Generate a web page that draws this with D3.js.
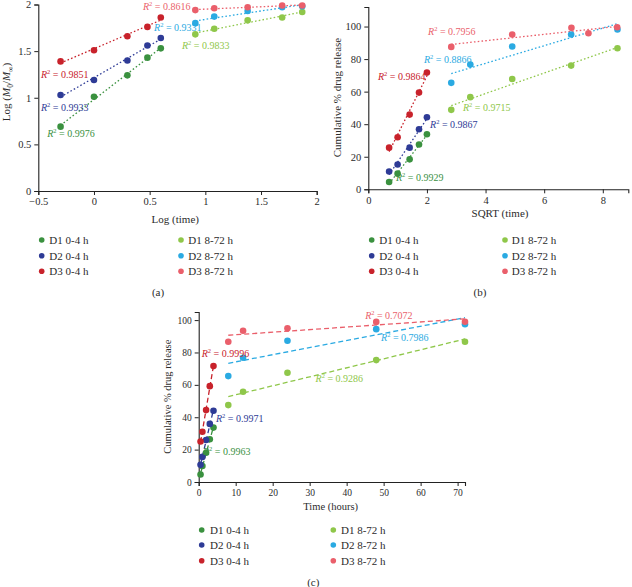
<!DOCTYPE html>
<html><head><meta charset="utf-8">
<script src="https://cdn.jsdelivr.net/npm/d3@7"></script>
<style>
html,body{margin:0;padding:0;background:#fff;}
svg{display:block;font-family:"Liberation Serif","Times New Roman",serif;}
</style></head>
<body>
<svg id="chart" width="632" height="587"></svg>
<script>
// ---------- DATA ----------
const seriesNames = ["D1 0-4 h","D2 0-4 h","D3 0-4 h","D1 8-72 h","D2 8-72 h","D3 8-72 h"];
const seriesColors = ["#3a913f","#2e3b96","#c8222b","#8fc74a","#2aaae2","#ea5f6b"];

// Panel (a): log(time) vs log(Mt/M∞)
const aXTicks = [-0.5,0,0.5,1,1.5,2];
const aYTicks = [0,0.5,1,1.5,2];
const aLogTimeEarly = [-0.30,0.00,0.30,0.48,0.60];
const aLogTimeLate  = [0.91,1.08,1.38,1.69,1.87];
const aD1Early = [0.69,1.01,1.24,1.43,1.53];
const aD2Early = [1.03,1.19,1.40,1.56,1.64];
const aD3Early = [1.39,1.51,1.66,1.76,1.86];
const aD1Late  = [1.68,1.74,1.83,1.86,1.92];
const aD2Late  = [1.80,1.87,1.93,1.97,1.98];
const aD3Late  = [1.94,1.96,1.97,1.99,1.99];
const aR2 = ["0.9976","0.9933","0.9851","0.9833","0.9331","0.8616"];
const aR2X = [-0.42,-0.476,-0.476,0.79,0.54,0.44];
const aR2Y = [0.584,0.863,1.217,1.528,1.721,1.946];

// Panel (b): SQRT(time) vs cumulative % release
const bXTicks = [0,2,4,6,8];
const bYTicks = [0,20,40,60,80,100];
const bSqrtEarly  = [0.71,1.00,1.41,1.73,2.00];
const bSqrtLate   = [2.83,3.48,4.91,6.92,8.50];
const bSqrtLateD3 = [2.83,4.91,6.93,7.51,8.49];
const bD1Early = [4.5,9.6,18.4,27.5,33.8];
const bD2Early = [10.9,15.2,25.6,36.9,44.3];
const bD3Early = [25.6,32.0,45.9,59.4,71.7];
const bD1Late  = [48.8,56.6,67.8,76.0,86.7];
const bD2Late  = [65.4,76.6,87.7,95.1,98.2];
const bD3Late  = [87.5,95.1,99.2,95.9,99.6];
const bR2 = ["0.9929","0.9867","0.9864","0.9715","0.8866","0.7956"];
const bR2X = [0.945,2.106,0.331,3.23,1.90,2.04];
const bR2Y = [4.8,37.96,67.4,47.8,77.9,94.5];

// Panel (c): time (hours) vs cumulative % release
const cXTicks = [0,10,20,30,40,50,60,70];
const cYTicks = [0,20,40,60,80,100];
const cTimeEarly = [0.5,1,2,3,4];
const cTimeLate  = [8,12,24,48,72];
const cD1Early = [4.6,9.9,18.1,26.4,33.6];
const cD2Early = [10.6,15.5,25.9,35.9,44.0];
const cD3Early = [25.0,31.0,44.4,59.2,71.6];
const cD1Late  = [47.5,55.7,67.5,75.3,86.6];
const cD2Late  = [65.4,76.7,87.2,94.4,97.5];
const cD3Late  = [86.6,93.4,94.9,98.9,99.0];
const cR2 = ["0.9963","0.9971","0.9996","0.9286","0.7986","0.7072"];
const cR2X = [1.16,4.68,0.81,31.6,49.3,45.0];
const cR2Y = [16.55,37.2,76.9,61.9,87.0,100.6];

// ---------- DRAW ----------
const svg = d3.select("#chart");
const textColor = "#2b2b2b";

function linreg(xs, ys){
  const n = xs.length, mx = d3.mean(xs), my = d3.mean(ys);
  let sxy = 0, sxx = 0;
  for (let i=0;i<n;i++){ sxy += (xs[i]-mx)*(ys[i]-my); sxx += (xs[i]-mx)**2; }
  const m = sxy/sxx; return {m, b: my - m*mx};
}

function panel(cfg){
  const g = svg.append("g");
  const x = d3.scaleLinear().domain(cfg.xDomain).range(cfg.xRange);
  const y = d3.scaleLinear().domain(cfg.yDomain).range(cfg.yRange);
  const fmt = d=>d3.format("")(d).replace("-","\u2212");

  const xa = g.append("g").attr("transform",`translate(0,${cfg.yRange[0]})`)
    .call(d3.axisBottom(x).tickValues(cfg.xTicks).tickSize(4).tickPadding(3).tickFormat(fmt));
  const ya = g.append("g").attr("transform",`translate(${cfg.xRange[0]},0)`)
    .call(d3.axisLeft(y).tickValues(cfg.yTicks).tickSize(4).tickPadding(3).tickFormat(d=>d3.format("")(d)));
  [xa,ya].forEach(a=>{
    a.selectAll("path").attr("stroke","#222").attr("stroke-width",1.1);
    a.selectAll("line").attr("stroke","#222").attr("stroke-width",1);
    a.selectAll("text").attr("fill",textColor).attr("font-size",cfg.tickFs)
      .attr("font-family","'Liberation Serif','Times New Roman',serif");
  });

  // axis titles
  g.append("text").attr("x",cfg.xTitlePos[0]).attr("y",cfg.xTitlePos[1])
    .attr("text-anchor","middle").attr("font-size",cfg.titleFs).attr("fill",textColor).text(cfg.xTitle);
  const yt = g.append("text").attr("transform",`translate(${cfg.yTitlePos[0]},${cfg.yTitlePos[1]}) rotate(-90)`)
    .attr("text-anchor","middle").attr("font-size",cfg.titleFs).attr("fill",textColor);
  cfg.yTitle(yt);

  // trend lines
  cfg.series.forEach((s,i)=>{
    const r = linreg(s.xs, s.ys);
    const x0 = d3.min(s.xs), x1 = d3.max(s.xs);
    g.append("line")
      .attr("x1",x(x0)).attr("y1",y(r.m*x0+r.b))
      .attr("x2",x(x1)).attr("y2",y(r.m*x1+r.b))
      .attr("stroke",seriesColors[i]).attr("stroke-width",1.3)
      .attr("stroke-dasharray",cfg.dash).attr("stroke-linecap","butt");
  });
  // points
  cfg.series.forEach((s,i)=>{
    g.append("g").selectAll("circle").data(s.xs.map((v,k)=>[v,s.ys[k]])).join("circle")
      .attr("cx",d=>x(d[0])).attr("cy",d=>y(d[1])).attr("r",3.3)
      .attr("fill",seriesColors[i]);
  });
  // R² labels
  cfg.r2.forEach((v,i)=>{
    const t = g.append("text").attr("x",x(cfg.r2x[i])).attr("y",y(cfg.r2y[i]))
      .attr("font-size",10).attr("fill",seriesColors[i]);
    t.append("tspan").attr("font-style","italic").text("R");
    t.append("tspan").attr("font-size",6.5).attr("dy",-4).text("2");
    t.append("tspan").attr("dy",4).text(" = " + v);
  });

  // legend
  const L = cfg.legend;
  seriesNames.forEach((nm,i)=>{
    const col = i<3 ? 0 : 1, row = i%3;
    const dx = L.dotX[col], ty = L.rows[row];
    g.append("circle").attr("cx",dx).attr("cy",ty).attr("r",2.8).attr("fill",seriesColors[i]);
    g.append("text").attr("x",L.textX[col]).attr("y",ty+3.8).attr("font-size",11)
      .attr("fill",textColor).text(nm);
  });
  g.append("text").attr("x",cfg.tag[0]).attr("y",cfg.tag[1]).attr("text-anchor","middle")
    .attr("font-size",11).attr("fill",textColor).text(cfg.tagText);
}

function yTitleM(t){
  t.append("tspan").text("Log (");
  t.append("tspan").attr("font-style","italic").text("M");
  t.append("tspan").attr("font-size",7.5).attr("dy",2.5).text("0");
  t.append("tspan").attr("dy",-2.5).text("/");
  t.append("tspan").attr("font-style","italic").text("M");
  t.append("tspan").attr("font-size",7.5).attr("dy",2.5).text("\u221E");
  t.append("tspan").attr("dy",-2.5).text(")");
}
function yTitleCum(t){ t.text("Cumulative % drug release"); }

panel({
  xDomain:[-0.5,2], xRange:[38.3,316.7], yDomain:[0,2], yRange:[191,4.5],
  xTicks:aXTicks, yTicks:aYTicks, tickFs:10.5, titleFs:11,
  xTitle:"Log (time)", xTitlePos:[175.3,223], yTitle:yTitleM, yTitlePos:[10,92],
  dash:"1.6,2.2",
  series:[
    {xs:aLogTimeEarly, ys:aD1Early},{xs:aLogTimeEarly, ys:aD2Early},{xs:aLogTimeEarly, ys:aD3Early},
    {xs:aLogTimeLate, ys:aD1Late},{xs:aLogTimeLate, ys:aD2Late},{xs:aLogTimeLate, ys:aD3Late}],
  r2:aR2, r2x:aR2X, r2y:aR2Y,
  legend:{dotX:[41.7,181], textX:[49.3,188.3], rows:[240,255.7,271.3]},
  tag:[158,296], tagText:"(a)"
});

panel({
  xDomain:[0,8.87], xRange:[368.3,628.3], yDomain:[0,112], yRange:[189.3,7],
  xTicks:bXTicks, yTicks:bYTicks, tickFs:10.5, titleFs:11,
  xTitle:"SQRT (time)", xTitlePos:[500,217], yTitle:yTitleCum, yTitlePos:[341,97.5],
  dash:"1.6,2.2",
  series:[
    {xs:bSqrtEarly, ys:bD1Early},{xs:bSqrtEarly, ys:bD2Early},{xs:bSqrtEarly, ys:bD3Early},
    {xs:bSqrtLate, ys:bD1Late},{xs:bSqrtLate, ys:bD2Late},{xs:bSqrtLateD3, ys:bD3Late}],
  r2:bR2, r2x:bR2X, r2y:bR2Y,
  legend:{dotX:[371.7,505], textX:[379.3,511.7], rows:[240,255.7,271.3]},
  tag:[480,296], tagText:"(b)"
});

panel({
  xDomain:[0,72], xRange:[198.7,465], yDomain:[0,105], yRange:[482,312],
  xTicks:cXTicks, yTicks:cYTicks, tickFs:9.5, titleFs:10.5,
  xTitle:"Time (hours)", xTitlePos:[330.7,510], yTitle:yTitleCum, yTitlePos:[171,396.7],
  dash:"5,3",
  series:[
    {xs:cTimeEarly, ys:cD1Early},{xs:cTimeEarly, ys:cD2Early},{xs:cTimeEarly, ys:cD3Early},
    {xs:cTimeLate, ys:cD1Late},{xs:cTimeLate, ys:cD2Late},{xs:cTimeLate, ys:cD3Late}],
  r2:cR2, r2x:cR2X, r2y:cR2Y,
  legend:{dotX:[201.7,333.3], textX:[210,341], rows:[530,545,560.7]},
  tag:[313.3,586], tagText:"(c)"
});
</script>
</body></html>
